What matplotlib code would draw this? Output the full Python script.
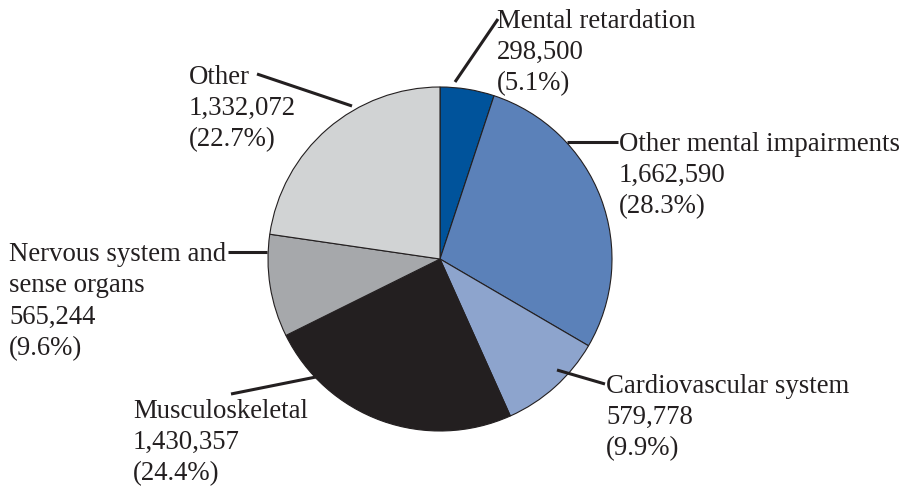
import matplotlib
matplotlib.use('Agg')
import matplotlib.pyplot as plt

# 数据
categories = ['Mental retardation', 'Other mental impairments', 'Cardiovascular system',
              'Musculoskeletal', 'Nervous system and\nsense organs', 'Other']
values = [298500, 1662590, 579778, 1430357, 565244, 1332072]
colors = ['#00539b', '#5b81b9', '#8da4cd', '#231f20', '#a6a8ab', '#d1d3d4']

W, H = 900, 489
fig = plt.figure(figsize=(W / 100, H / 100), dpi=100)
ax = fig.add_axes([0, 0, 1, 1])

cx, cy, r = 440, H - 260, 172
ax.pie(values, colors=colors, startangle=90, counterclock=False,
       center=(cx, cy), radius=r, frame=True,
       wedgeprops=dict(edgecolor='#231f20', linewidth=0.8))
ax.set_xlim(0, W)
ax.set_ylim(0, H)
ax.set_aspect('equal')
ax.axis('off')

total = sum(values)

# 标签位置 (文字左上角, 引线起点, 引线终点) 像素坐标
layout = [
    ((497, 9), (455, 83), (498, 20)),
    ((619, 132), (567, 143), (618, 143)),
    ((606, 374), (557, 371), (605, 385)),
    ((133, 399), (326, 376), (231, 395)),
    ((9, 242), (267, 253), (228, 253)),
    ((189, 65), (352, 107), (257, 75)),
]

for cat, v, (tpos, p0, p1) in zip(categories, values, layout):
    pct = 100 * v / total
    label = f'{cat}\n{v:,}\n({pct:.1f}%)'
    ax.text(tpos[0], H - tpos[1], label, ha='left', va='top',
            family='Liberation Serif', fontsize=19.3, color='#231f20',
            linespacing=1.33)
    ax.plot([p0[0], p1[0]], [H - p0[1], H - p1[1]], color='#231f20', lw=2.2,
            solid_capstyle='butt')

fig.savefig('out.png', dpi=100)
